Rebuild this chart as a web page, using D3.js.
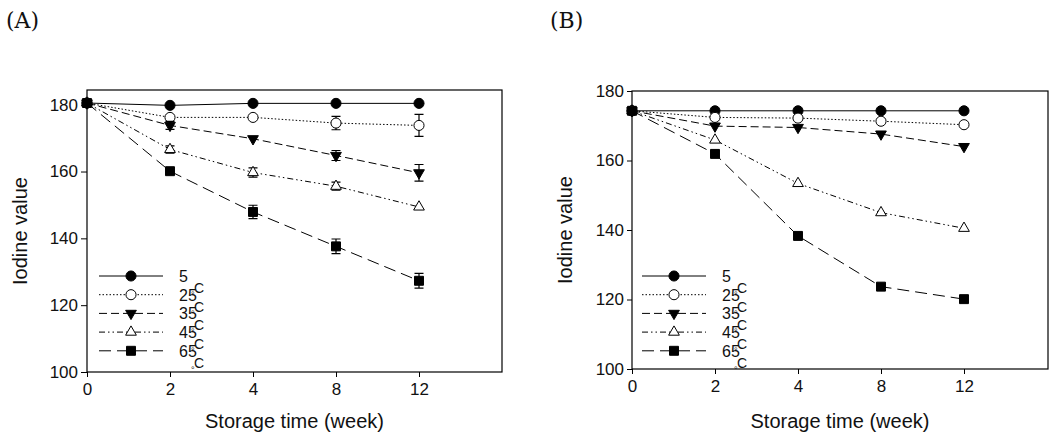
<!DOCTYPE html>
<html><head><meta charset="utf-8">
<script src="https://cdn.jsdelivr.net/npm/d3@7"></script>
<style>body{margin:0;background:#fff}svg{display:block}text{font-family:"Liberation Sans",Arial,sans-serif;fill:#111}</style>
</head><body>
<svg id="c" width="1057" height="436"></svg>
<script>
const weeks = ["0","2","4","8","12"];
const temps = ["5","25","35","45","65"];
const yTicks = [100,120,140,160,180];

const A5  = [180.5,179.8,180.4,180.4,180.4];
const A25 = [180.5,176.2,176.2,174.5,173.8];
const A35 = [180.5,173.8,169.8,164.8,159.6];
const A45 = [180.5,166.6,159.7,155.6,149.4];
const A65 = [180.5,160.1,147.9,137.6,127.3];
const A5err  = [0.4,0.3,0.3,0.3,0.3];
const A25err = [0.3,0.4,0.4,2.0,3.3];
const A35err = [0.3,1.2,0.8,1.5,2.5];
const A45err = [0.3,1.1,1.4,1.2,0.7];
const A65err = [0.5,0.5,2.0,2.2,2.2];

const B5  = [174.3,174.3,174.3,174.3,174.3];
const B25 = [174.3,172.4,172.2,171.3,170.3];
const B35 = [174.3,169.9,169.5,167.6,164.0];
const B45 = [174.3,165.9,153.4,145.0,140.5];
const B65 = [174.3,161.9,138.3,123.7,120.1];

const styles = [
  {sym:d3.symbolCircle, size:80, fill:"#000", dash:null},
  {sym:d3.symbolCircle, size:80, fill:"#fff", dash:"1.5,2"},
  {sym:d3.symbolTriangle, size:50, fill:"#000", dash:"8,4", rot:180},
  {sym:d3.symbolTriangle, size:50, fill:"#fff", dash:"6,3,1.5,3,1.5,3"},
  {sym:d3.symbolSquare, size:80, fill:"#000", dash:"12,6"}
];

const svg = d3.select("#c");

function panel(o){
  const g = svg.append("g");
  const x = d3.scalePoint().domain(weeks).range([o.left, o.left+332]);
  const y = d3.scaleLinear().domain(o.ydom).range([o.bottom, o.top]);
  g.append("rect").attr("x",o.left).attr("y",o.top).attr("width",o.width).attr("height",o.bottom-o.top)
    .attr("fill","none").attr("stroke","#000").attr("stroke-width",1.2);
  const ax = g.append("g").attr("transform",`translate(0,${o.bottom})`)
    .call(d3.axisBottom(x).tickSize(5).tickPadding(6));
  ax.select(".domain").remove();
  ax.selectAll("text").style("font-size","17px").attr("fill","#111");
  const ay = g.append("g").attr("transform",`translate(${o.left},0)`)
    .call(d3.axisLeft(y).tickValues(yTicks).tickSize(o.ytick).tickPadding(3));
  ay.select(".domain").remove();
  ay.selectAll("text").style("font-size","17px").attr("fill","#111");
  g.selectAll(".tick line").attr("stroke","#000");
  g.append("text").attr("x",o.left+o.width/2).attr("y",428).attr("text-anchor","middle")
    .style("font-size","20px").text("Storage time (week)");
  g.append("text").attr("transform",`translate(${o.left-67},${(o.top+o.bottom)/2}) rotate(-90)`)
    .attr("text-anchor","middle").attr("dy","0.35em").style("font-size","20px").text("Iodine value");
  g.append("text").attr("x",o.lblx).attr("y",28).style("font-family","'DejaVu Serif','Liberation Serif',serif")
    .style("font-size","22px").text(o.label);
  o.series.forEach((s,i)=>{
    const st = styles[i];
    const line = d3.line().x((d,j)=>x(weeks[j])).y(d=>y(d));
    g.append("path").datum(s).attr("d",line).attr("fill","none").attr("stroke","#000")
      .attr("stroke-width",1).attr("stroke-dasharray",st.dash);
  });
  o.series.forEach((s,i)=>{
    const st = styles[i];
    const errs = o.errs ? o.errs[i] : null;
    if(errs){
      s.forEach((v,j)=>{
        const e = errs[j]; if(y(v-e)-y(v+e) < 7) return;
        const cx = x(weeks[j]);
        g.append("path").attr("d",`M${cx},${y(v-e)}V${y(v+e)}M${cx-4.5},${y(v-e)}H${cx+4.5}M${cx-4.5},${y(v+e)}H${cx+4.5}`)
          .attr("stroke","#000").attr("stroke-width",1.2).attr("fill","none");
      });
    }
    g.selectAll(null).data(s).join("path")
      .attr("d",d3.symbol().type(st.sym).size(st.size))
      .attr("transform",(d,j)=>`translate(${x(weeks[j])},${y(d)})${st.rot?" rotate(180)":""}`)
      .attr("fill",st.fill).attr("stroke","#000").attr("stroke-width",1);
  });
  temps.forEach((t,i)=>{
    const st = styles[i];
    const ly = o.legy + i*18.7;
    g.append("line").attr("x1",o.legx).attr("x2",o.legx+64).attr("y1",ly).attr("y2",ly)
      .attr("stroke","#000").attr("stroke-width",1).attr("stroke-dasharray",st.dash);
    g.append("path").attr("d",d3.symbol().type(st.sym).size(st.size))
      .attr("transform",`translate(${o.legx+32},${ly})${st.rot?" rotate(180)":""}`)
      .attr("fill",st.fill).attr("stroke","#000");
    g.append("text").attr("x",o.legx+80).attr("y",ly+6).style("font-size","16px").text(t);
    g.append("text").attr("x",o.legx+95).attr("y",ly+17).style("font-size","14px").text("C");
    g.append("text").attr("x",o.legx+92).attr("y",ly+22).style("font-size","9px").text("°");
  });
}

panel({left:87,width:415,top:90,bottom:372,ydom:[100,184.4],ytick:6,label:"(A)",lblx:6,
  legx:99,legy:276,series:[A5,A25,A35,A45,A65],errs:[A5err,A25err,A35err,A45err,A65err]});
panel({left:632,width:416,top:91,bottom:369,ydom:[100,180],ytick:5,label:"(B)",lblx:550,
  legx:642,legy:276,series:[B5,B25,B35,B45,B65],errs:null});
</script>
</body></html>
